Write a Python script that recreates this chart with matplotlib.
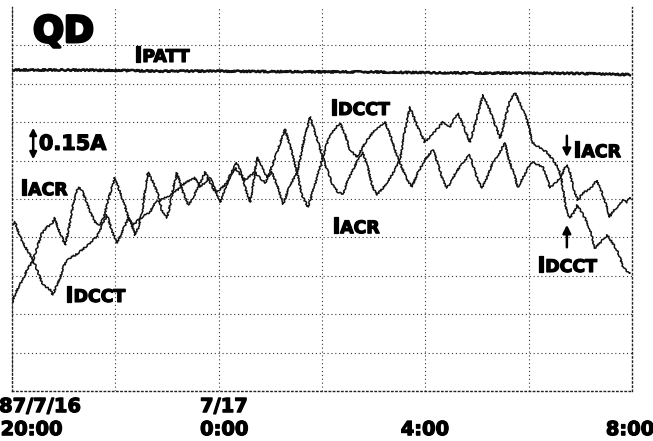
import matplotlib
matplotlib.use('Agg')
import matplotlib.pyplot as plt
import matplotlib.patheffects as pe

# время: часы от 87/7/16 20:00, ток: деления сетки (0.15 A на деление)
ipatt_t = [0.0, 0.93, 1.99, 2.86, 3.97, 4.99, 5.98, 6.93, 7.99, 9.06, 9.99, 10.95, 11.96]
ipatt_v = [8.36, 8.36, 8.35, 8.33, 8.33, 8.32, 8.31, 8.31, 8.29, 8.28, 8.28, 8.27, 8.24]

iacr_t = [0.0, 0.08, 0.15, 0.23, 0.29, 0.41, 0.50, 0.58, 0.68, 0.77, 0.83, 0.89, 0.97, 1.03,
          1.10, 1.18, 1.28, 1.35, 1.43, 1.51, 1.61, 1.70, 1.78, 1.86, 1.94, 1.99, 2.09, 2.19,
          2.25, 2.34, 2.38, 2.44, 2.52, 2.57, 2.63, 2.73, 2.83, 2.90, 3.00, 3.06, 3.12, 3.19,
          3.25, 3.31, 3.41, 3.50, 3.60, 3.74, 3.83, 3.93, 4.03, 4.12, 4.22, 4.35, 4.45, 4.53,
          4.61, 4.68, 4.74, 4.84, 4.94, 5.03, 5.13, 5.25, 5.38, 5.52, 5.63, 5.77, 5.88, 6.00,
          6.10, 6.21, 6.31, 6.41, 6.50, 6.60, 6.70, 6.79, 6.89, 6.97, 7.06, 7.18, 7.32, 7.41,
          7.51, 7.59, 7.70, 7.86, 7.99, 8.13, 8.25, 8.34, 8.48, 8.57, 8.63, 8.73, 8.86, 8.96,
          9.06, 9.12, 9.21, 9.33, 9.45, 9.54, 9.64, 9.74, 9.83, 9.91, 9.97, 10.08, 10.22, 10.35,
          10.47, 10.57, 10.63, 10.68, 10.74, 10.80, 10.86, 10.95, 11.05, 11.15, 11.25, 11.32,
          11.42, 11.50, 11.57, 11.65, 11.71, 11.83, 11.90, 11.96]
iacr_v = [2.29, 2.58, 2.76, 2.97, 3.15, 3.41, 3.80, 4.11, 4.27, 4.35, 4.51, 4.24, 3.98, 3.80,
          4.24, 4.84, 5.31, 5.23, 4.97, 4.66, 4.40, 4.32, 4.53, 4.97, 5.34, 5.55, 5.18, 4.79,
          4.53, 4.24, 4.06, 4.24, 4.66, 5.18, 5.70, 5.44, 5.10, 4.71, 4.51, 4.84, 5.29, 5.68,
          5.44, 5.18, 4.84, 5.03, 5.29, 5.70, 5.44, 5.18, 4.92, 5.23, 5.63, 5.94, 5.63, 5.23,
          4.92, 5.49, 6.09, 5.81, 5.57, 5.70, 5.36, 4.87, 5.36, 5.68, 6.41, 7.14, 6.67, 6.15,
          5.76, 5.36, 5.18, 5.13, 5.49, 5.76, 6.02, 6.22, 5.81, 5.36, 5.10, 5.29, 5.55, 5.76,
          6.02, 6.67, 7.40, 6.85, 6.48, 6.67, 6.85, 7.01, 6.88, 7.11, 7.24, 6.93, 6.48, 6.93,
          7.45, 7.71, 7.45, 7.01, 6.59, 7.06, 7.58, 7.76, 7.50, 7.27, 7.06, 6.46, 6.33, 6.22,
          6.02, 5.81, 5.57, 5.76, 5.89, 5.70, 5.31, 4.97, 5.16, 5.23, 5.36, 5.49,
          5.16, 4.84, 4.53, 4.71, 4.79, 4.97, 4.90, 5.03]

idcct_t = [0.0, 0.06, 0.12, 0.19, 0.29, 0.41, 0.50, 0.60, 0.66, 0.74, 0.79, 0.85, 0.93, 1.01,
           1.08, 1.16, 1.26, 1.35, 1.45, 1.55, 1.65, 1.74, 1.84, 1.94, 2.03, 2.13, 2.25, 2.34,
           2.44, 2.57, 2.67, 2.77, 2.86, 2.96, 3.06, 3.15, 3.25, 3.35, 3.45, 3.54, 3.64, 3.74,
           3.83, 3.91, 3.97, 4.06, 4.16, 4.24, 4.32, 4.41, 4.51, 4.61, 4.70, 4.80, 4.90, 4.99,
           5.09, 5.19, 5.28, 5.38, 5.52, 5.61, 5.73, 5.86, 6.00, 6.12, 6.23, 6.35, 6.45, 6.54,
           6.68, 6.79, 6.87, 6.99, 7.12, 7.22, 7.32, 7.41, 7.51, 7.63, 7.74, 7.86, 7.99, 8.15,
           8.25, 8.34, 8.42, 8.52, 8.59, 8.67, 8.77, 8.86, 8.94, 9.02, 9.10, 9.19, 9.29, 9.41,
           9.54, 9.62, 9.72, 9.79, 9.89, 9.99, 10.08, 10.18, 10.28, 10.35, 10.41, 10.51, 10.63,
           10.70, 10.74, 10.80, 10.88, 10.94, 11.03, 11.11, 11.19, 11.28, 11.38, 11.46, 11.52,
           11.61, 11.71, 11.77, 11.83, 11.88, 11.96]
idcct_v = [4.32, 4.40, 4.14, 3.93, 3.67, 3.41, 3.10, 2.76, 2.71, 2.63, 2.50, 2.71, 2.94, 3.28,
           3.41, 3.49, 3.57, 3.67, 3.78, 3.91, 4.04, 4.30, 4.58, 4.14, 3.85, 4.14, 4.51, 4.32,
           4.45, 4.58, 4.66, 4.90, 4.97, 5.03, 5.10, 5.18, 5.29, 5.42, 5.49, 5.55, 5.31, 5.44,
           5.55, 5.34, 5.18, 5.29, 5.42, 5.63, 5.81, 5.65, 5.49, 5.60, 5.70, 5.55, 5.42, 5.70,
           6.07, 6.46, 6.82, 6.41, 5.68, 5.10, 4.79, 5.36, 6.02, 6.54, 6.80, 6.98, 6.67, 6.28,
           6.09, 6.35, 6.54, 6.74, 6.88, 7.01, 6.67, 6.28, 5.94, 5.55, 5.31, 5.70, 6.02, 6.28,
           5.89, 5.49, 5.29, 5.49, 5.70, 5.83, 6.02, 6.15, 5.81, 5.49, 5.29, 5.55, 5.89, 6.15,
           6.46, 6.02, 5.63, 5.31, 5.55, 5.81, 5.96, 5.89, 5.83, 5.55, 5.29, 5.42, 5.55,
           4.97, 4.64, 4.51, 4.66, 4.84, 4.64, 4.45, 4.19, 3.72, 3.85, 3.98, 4.06,
           3.88, 3.67, 3.46, 3.23, 3.15, 3.07]

FONT = 'DejaVu Sans'
heavy = [pe.withStroke(linewidth=0.9, foreground='black')]

fig = plt.figure(figsize=(6.53, 4.41), dpi=100)
ax = fig.add_axes([0.0184, 0.1134, 0.9494, 0.8707])

# линии самописца
l1, = ax.plot(ipatt_t, ipatt_v, color='#111111', lw=1.8)
l2, = ax.plot(iacr_t, iacr_v, color='#111111', lw=1.1)
l3, = ax.plot(idcct_t, idcct_v, color='#111111', lw=1.1)
for ln in (l1, l2, l3):
    ln.set_sketch_params(scale=0.8, length=2.0, randomness=4)

ax.set_xlim(0, 12)
ax.set_ylim(0, 10)
ax.set_xticks(range(0, 13, 2))
ax.set_yticks(range(0, 10))
ax.tick_params(length=0, labelbottom=False, labelleft=False)
ax.grid(color='#333333', linestyle=(0, (1, 2.5)), linewidth=0.8)
ax.spines['top'].set_visible(False)
for s in ('left', 'right', 'bottom'):
    ax.spines[s].set_linestyle((0, (1, 2)))
    ax.spines[s].set_linewidth(1.0)
    ax.spines[s].set_color('#222222')


def sig_label(x, y, rest):
    # большая "I" + индекс капителью
    ax.text(x, y, 'I', fontsize=16, fontweight='bold', family=FONT, va='baseline',
            path_effects=heavy)
    ax.annotate(rest, (x, y), xytext=(6, 0), textcoords='offset points',
                fontsize=12.5, fontweight='bold', family=FONT, va='baseline',
                path_effects=heavy)


ax.text(0.41, 9.09, 'QD', fontsize=26, fontweight='bold', family=FONT, va='baseline',
        path_effects=[pe.withStroke(linewidth=2.2, foreground='black')])
sig_label(2.36, 8.57, 'PATT')
sig_label(0.15, 5.10, 'ACR')
sig_label(1.03, 2.32, 'DCCT')
sig_label(6.15, 7.19, 'DCCT')
sig_label(6.19, 4.11, 'ACR')
sig_label(10.86, 6.09, 'ACR')
sig_label(10.16, 3.10, 'DCCT')

# шкала 0.15 A
ax.annotate('', xy=(0.41, 5.96), xytext=(0.41, 6.93),
            arrowprops=dict(arrowstyle='<|-|>', lw=1.8, color='k', mutation_scale=10))
ax.text(0.52, 6.28, '0.15A', fontsize=15, fontweight='bold', family=FONT, va='baseline',
        path_effects=heavy)

# стрелки справа
ax.annotate('', xy=(10.74, 6.02), xytext=(10.74, 6.72),
            arrowprops=dict(arrowstyle='-|>', lw=1.8, color='k', mutation_scale=12))
ax.annotate('', xy=(10.74, 4.40), xytext=(10.74, 3.67),
            arrowprops=dict(arrowstyle='-|>', lw=1.8, color='k', mutation_scale=12))

# подписи времени
tr = ax.get_xaxis_transform()
kw = dict(fontsize=14, fontweight='bold', family=FONT, va='baseline', transform=tr,
          clip_on=False, path_effects=heavy)
ax.text(-0.25, -0.055, '87/7/16', ha='left', **kw)
ax.text(-0.22, -0.115, '20:00', ha='left', **kw)
ax.text(3.64, -0.055, '7/17', ha='left', **kw)
ax.text(3.64, -0.115, '0:00', ha='left', **kw)
ax.text(7.99, -0.115, '4:00', ha='center', **kw)
ax.text(11.96, -0.115, '8:00', ha='center', **kw)

fig.savefig('out.png', dpi=100)
